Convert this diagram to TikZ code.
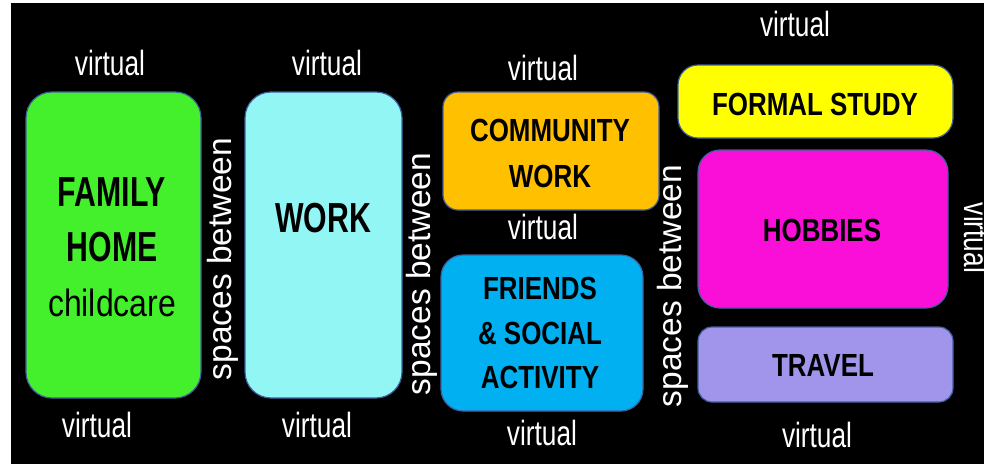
\documentclass[tikz,border=0pt]{standalone}
\usepackage{fontspec}
\newfontfamily\vfont[FakeStretch=0.75]{Liberation Sans}
\newfontfamily\bigfont[FakeStretch=0.72]{Liberation Sans}
\newfontfamily\ccfont[FakeStretch=0.84]{Liberation Sans}
\newfontfamily\midfont[FakeStretch=0.81]{Liberation Sans}
\newfontfamily\plainfont{Liberation Sans}
\definecolor{cgreen}{HTML}{43F02B}
\definecolor{ccyan}{HTML}{92F6F4}
\definecolor{corange}{HTML}{FFC000}
\definecolor{cblue}{HTML}{00B0F0}
\definecolor{cyellow}{HTML}{FFFF00}
\definecolor{cmagenta}{HTML}{F90FD8}
\definecolor{clav}{HTML}{A095EB}
\definecolor{cedge}{HTML}{3F5F9F}
\begin{document}
\begin{tikzpicture}[x=1pt,y=-1pt,
  box/.style={draw=cedge, line width=1.2pt, inner sep=0pt},
  virt/.style={text=white, inner sep=0pt, font=\vfont\fontsize{35}{40}\selectfont},
  spc/.style={text=white, inner sep=0pt, rotate=90, font=\plainfont\fontsize{33.5}{36}\selectfont},
  bigtxt/.style={align=center, inner sep=0pt, font=\bigfont\bfseries\fontsize{42}{55}\selectfont},
  midtxt/.style={align=center, inner sep=0pt, font=\midfont\bfseries\fontsize{32}{45}\selectfont}]
\useasboundingbox (0,0) rectangle (984,464);
\fill[white] (0,0) rectangle (984,464);
\fill[black] (11,3) rectangle (984,464);
% boxes
\node[box, fill=cgreen, rounded corners=26pt, minimum width=175pt, minimum height=306pt] (fam) at (113.5,245) {};
\node[box, fill=ccyan, rounded corners=26pt, minimum width=157pt, minimum height=306pt] (work) at (323.5,245) {};
\node[box, fill=corange, rounded corners=15pt, minimum width=216pt, minimum height=118pt] (comm) at (551,151) {};
\node[box, fill=cblue, rounded corners=22pt, minimum width=202pt, minimum height=156pt] (friends) at (542,333) {};
\node[box, fill=cyellow, rounded corners=20pt, minimum width=275pt, minimum height=73pt] (formal) at (815.5,101.5) {};
\node[box, fill=cmagenta, rounded corners=22pt, minimum width=250pt, minimum height=158pt] (hobbies) at (823,229) {};
\node[box, fill=clav, rounded corners=14pt, minimum width=255pt, minimum height=75pt] (travel) at (825.5,364.5) {};
% box texts
\node[bigtxt] (famt) at (112,247) {FAMILY\\HOME\\{\ccfont\mdseries\fontsize{38}{55}\selectfont childcare}};
\node[bigtxt] (workt) at (323,218) {WORK};
\node[midtxt, font=\midfont\bfseries\fontsize{32}{46}\selectfont] (commt) at (550,153) {COMMUNITY\\WORK};
\node[midtxt, font=\midfont\bfseries\fontsize{32}{44.5}\selectfont] (friendst) at (540,333) {FRIENDS\\\&\ SOCIAL\\ACTIVITY};
\node[midtxt] (formalt) at (815,104) {FORMAL STUDY};
\node[midtxt] (hobbiest) at (822,230) {HOBBIES};
\node[midtxt] (travelt) at (823,365) {TRAVEL};
% virtual labels
\node[virt] (v1) at (110,63) {virtual};
\node[virt] (v2) at (327,63) {virtual};
\node[virt] (v3) at (97,425) {virtual};
\node[virt] (v4) at (317,425) {virtual};
\node[virt] (v5) at (543,68) {virtual};
\node[virt] (v6) at (543,227) {virtual};
\node[virt] (v7) at (542,433) {virtual};
\node[virt] (v8) at (795,24) {virtual};
\node[virt] (v9) at (817,435) {virtual};
\node[virt, rotate=-90] (v10) at (977,238) {virtual};
% spaces between
\node[spc] (s1) at (223,259) {spaces between};
\node[spc] (s2) at (422,274) {spaces between};
\node[spc] (s3) at (673,286) {spaces between};
\end{tikzpicture}
\end{document}
